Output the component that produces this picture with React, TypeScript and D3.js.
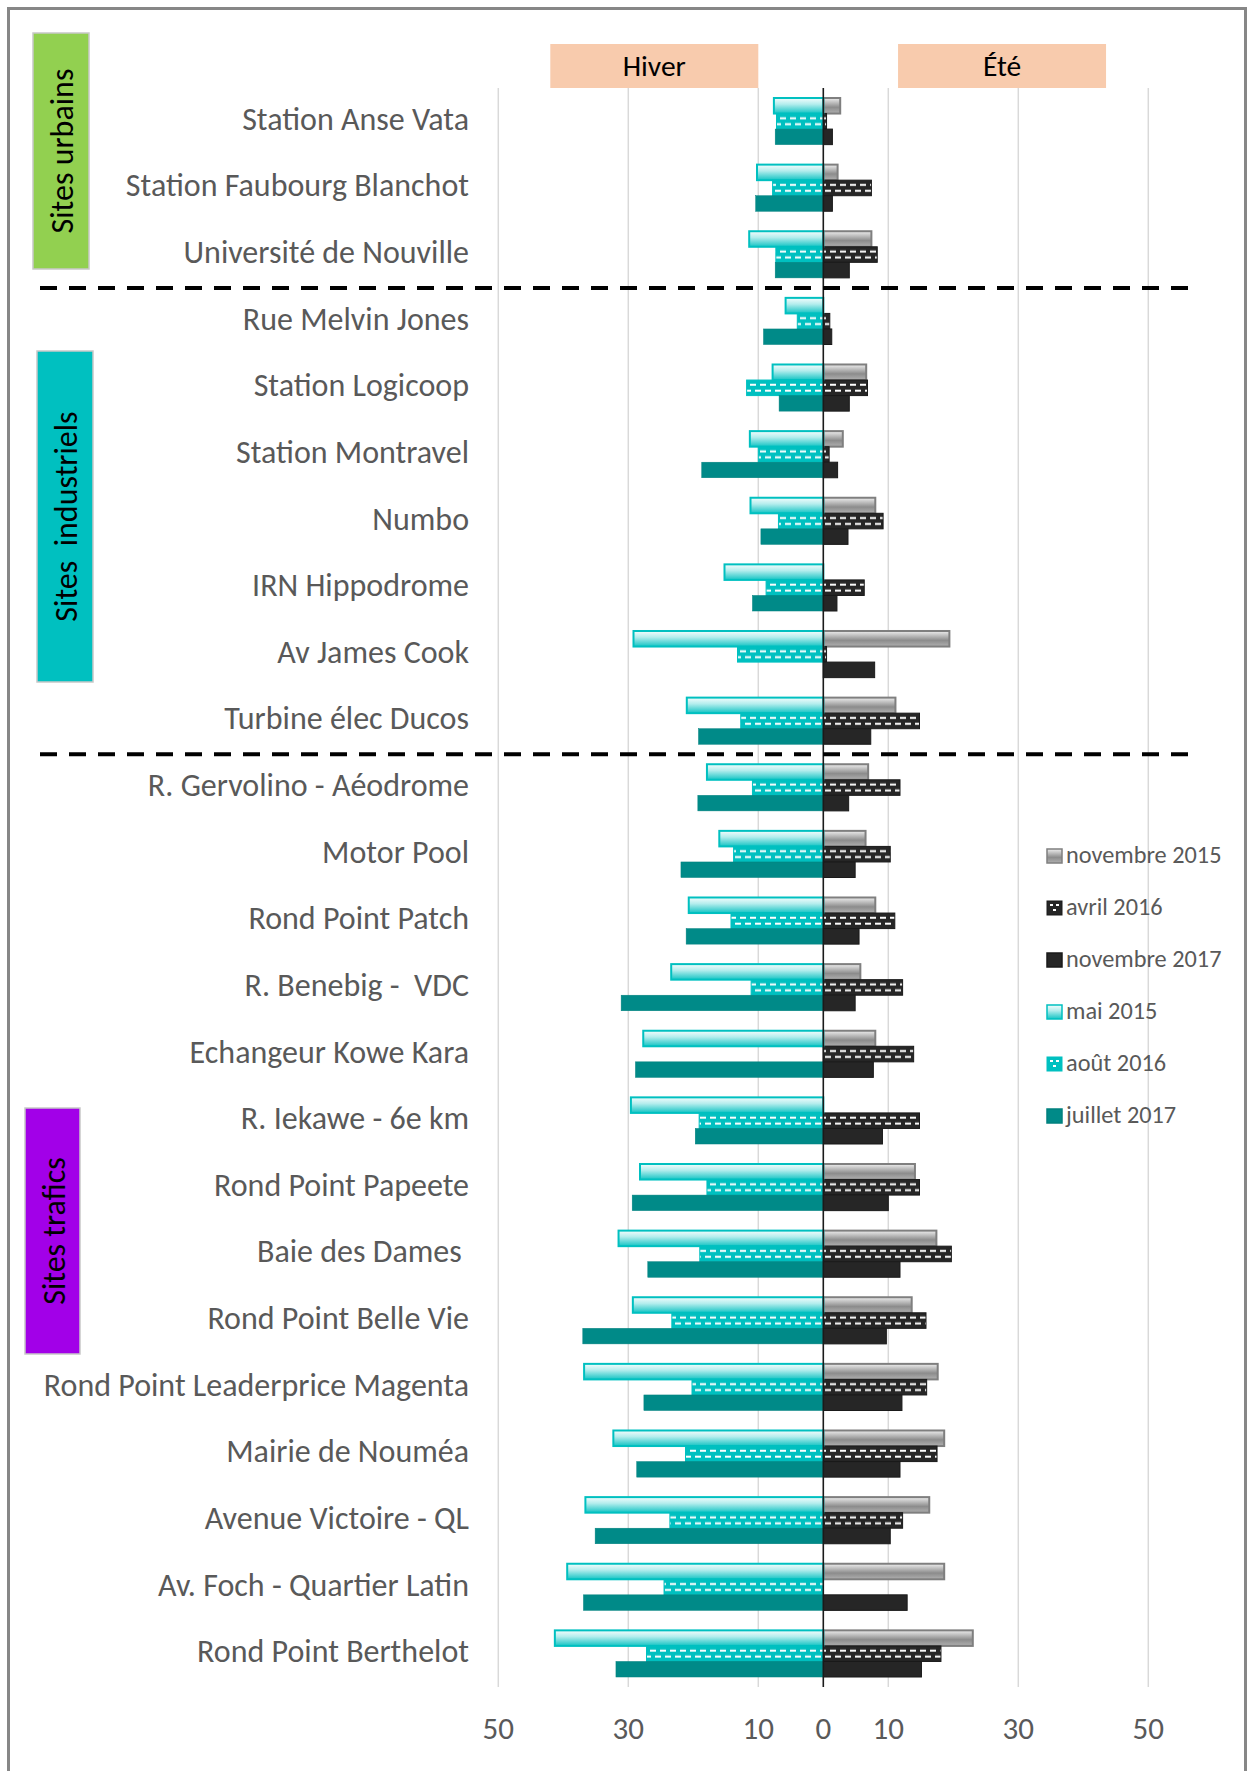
import React from "react";
import * as d3 from "d3";

const WIDTH = 1249;
const HEIGHT = 1771;

// sites, top to bottom
const sites = [
  "Station Anse Vata",
  "Station Faubourg Blanchot",
  "Université de Nouville",
  "Rue Melvin Jones",
  "Station Logicoop",
  "Station Montravel",
  "Numbo",
  "IRN Hippodrome",
  "Av James Cook",
  "Turbine élec Ducos",
  "R. Gervolino - Aéodrome",
  "Motor Pool",
  "Rond Point Patch",
  "R. Benebig -  VDC",
  "Echangeur Kowe Kara",
  "R. Iekawe - 6e km",
  "Rond Point Papeete",
  "Baie des Dames ",
  "Rond Point Belle Vie",
  "Rond Point Leaderprice Magenta",
  "Mairie de Nouméa",
  "Avenue Victoire - QL",
  "Av. Foch - Quartier Latin",
  "Rond Point Berthelot",
];

// été (right side)
const nov2015 = [2.6, 2.2, 7.4, null, 6.6, 3.0, 8.0, null, 19.4, 11.1, 6.9, 6.5, 8.0, 5.7, 8.0, null, 14.1, 17.4, 13.6, 17.6, 18.6, 16.3, 18.6, 23.0];
const avr2016 = [0.5, 7.4, 8.3, 1.0, 6.8, 0.9, 9.2, 6.3, 0.5, 14.8, 11.8, 10.3, 11.0, 12.2, 13.9, 14.8, 14.8, 19.7, 15.8, 15.9, 17.5, 12.2, null, 18.1];
const nov2017 = [1.4, 1.4, 4.0, 1.3, 4.0, 2.2, 3.8, 2.1, 7.9, 7.3, 3.9, 4.9, 5.5, 4.9, 7.7, 9.1, 10.0, 11.8, 9.7, 12.1, 11.8, 10.3, 12.9, 15.1];

// hiver (left side)
const mai2015 = [7.6, 10.2, 11.4, 5.8, 7.8, 11.3, 11.2, 15.2, 29.2, 21.0, 17.9, 16.0, 20.7, 23.4, 27.7, 29.6, 28.2, 31.5, 29.3, 36.8, 32.3, 36.6, 39.4, 41.3];
const aout2016 = [7.2, 7.8, 7.3, 4.0, 11.8, 10.0, 6.9, 8.8, 13.2, 12.7, 10.9, 13.8, 14.2, 11.1, null, 19.1, 17.9, 19.0, 23.3, 20.2, 21.2, 23.6, 24.5, 27.2];
const juil2017 = [7.4, 10.4, 7.4, 9.2, 6.8, 18.7, 9.6, 10.9, null, 19.2, 19.3, 21.9, 21.1, 31.1, 28.9, 19.7, 29.4, 27.0, 37.0, 27.6, 28.7, 35.1, 36.9, 31.9];

const tickValues = [-50, -30, -10, 0, 10, 30, 50];
const gridValues = [-50, -30, -10, 10, 30, 50];

const groups = [
  { label: "Sites urbains", color: "#92D050", x: 33, y: 33, w: 56, h: 236, tx: 62 },
  { label: "Sites  industriels", color: "#00C0C0", x: 37, y: 351, w: 56, h: 331, tx: 66 },
  { label: "Sites trafics", color: "#A200E8", x: 25, y: 1108, w: 55, h: 246, tx: 54 },
];

const FONT = "Carlito, Calibri, Lato, sans-serif";

export default function App() {
  const x = d3.scaleLinear().domain([-50, 50]).range([498.3, 1148.3]);
  const y = d3
    .scaleBand<string>()
    .domain(sites)
    .range([88, 1687])
    .paddingInner(0.3)
    .paddingOuter(0.15);
  const sub = d3.scaleBand<number>().domain([0, 1, 2]).range([0, y.bandwidth()]);
  const step = y.step();
  const midY0 = (y(sites[0]) ?? 0) + (sub(1) ?? 0);
  const bh = sub.bandwidth();

  const series = [
    { label: "novembre 2015", values: nov2015, side: 1, row: 0, fill: "url(#gradGray)", stroke: "#7f7f7f", sw: 2 },
    { label: "avril 2016", values: avr2016, side: 1, row: 1, fill: "url(#dashDark)", stroke: "#1a1a1a", sw: 1 },
    { label: "novembre 2017", values: nov2017, side: 1, row: 2, fill: "#262626", stroke: "#1a1a1a", sw: 1 },
    { label: "mai 2015", values: mai2015, side: -1, row: 0, fill: "url(#gradCyan)", stroke: "#00C0C0", sw: 2 },
    { label: "août 2016", values: aout2016, side: -1, row: 1, fill: "url(#dashCyan)", stroke: "#00C0C0", sw: 1 },
    { label: "juillet 2017", values: juil2017, side: -1, row: 2, fill: "#008A88", stroke: "#00807e", sw: 0.5 },
  ];

  // separators between the site families
  const sepY = (i: number) => ((y(sites[i]) ?? 0) + y.bandwidth() + (y(sites[i + 1]) ?? 0)) / 2;
  const separators = [sepY(2), sepY(9)];

  const dashTile = (id: string, bg: string) => (
    <pattern id={id} patternUnits="userSpaceOnUse" x={0} y={midY0} width={10} height={step}>
      <rect width={10} height={step} fill={bg} />
      <rect x={0} y={bh * 0.24} width={6} height={2} fill="#fff" />
      <rect x={5} y={bh * 0.62} width={5} height={2} fill="#fff" />
      <rect x={0} y={bh * 0.62} width={1} height={2} fill="#fff" />
    </pattern>
  );

  const legendSwatch = (s: typeof series[number], lx: number, ly: number) => {
    if (s.fill === "url(#dashDark)" || s.fill === "url(#dashCyan)") {
      const bg = s.fill === "url(#dashDark)" ? "#262626" : "#00C0C0";
      return (
        <g>
          <rect x={lx} y={ly} width={15} height={14} fill={bg} stroke={s.stroke} strokeWidth={1} />
          <rect x={lx + 3} y={ly + 3} width={3} height={2} fill="#fff" />
          <rect x={lx + 9} y={ly + 3} width={3} height={2} fill="#fff" />
          <rect x={lx + 6} y={ly + 8} width={3} height={2} fill="#fff" />
        </g>
      );
    }
    return <rect x={lx} y={ly} width={15} height={14} fill={s.fill} stroke={s.stroke} strokeWidth={1.5} />;
  };

  return (
    <svg
      width={WIDTH}
      height={HEIGHT}
      style={{ position: "absolute", left: 0, top: 0, background: "#fff" }}
      fontFamily={FONT}
    >
      <defs>
        <linearGradient id="gradCyan" x1="0" y1="0" x2="0" y2="1">
          <stop offset="0" stopColor="#f4fdfd" />
          <stop offset="0.4" stopColor="#b4eded" />
          <stop offset="1" stopColor="#14c4c4" />
        </linearGradient>
        <linearGradient id="gradGray" x1="0" y1="0" x2="0" y2="1">
          <stop offset="0" stopColor="#eeeeee" />
          <stop offset="0.6" stopColor="#8c8c8c" />
          <stop offset="1" stopColor="#b0b0b0" />
        </linearGradient>
        {dashTile("dashCyan", "#00C0C0")}
        {dashTile("dashDark", "#262626")}
      </defs>

      <rect x={0} y={0} width={WIDTH} height={HEIGHT} fill="#fff" />
      {/* frame */}
      <rect x={8.5} y={8.5} width={1237} height={1800} fill="none" stroke="#878787" strokeWidth={3} />

      {/* season headers */}
      <rect x={x(-42)} y={44} width={x(-10) - x(-42)} height={44} fill="#F8CBAD" />
      <text x={(x(-42) + x(-10)) / 2} y={66} textAnchor="middle" dominantBaseline="central" fontSize={29.5} fill="#000">
        Hiver
      </text>
      <rect x={x(11.5)} y={44} width={x(43.5) - x(11.5)} height={44} fill="#F8CBAD" />
      <text x={(x(11.5) + x(43.5)) / 2} y={66} textAnchor="middle" dominantBaseline="central" fontSize={29.5} fill="#000">
        Été
      </text>

      {/* gridlines */}
      {gridValues.map((v) => (
        <line key={v} x1={x(v)} x2={x(v)} y1={88} y2={1687} stroke="#d9d9d9" strokeWidth={1.5} />
      ))}

      {/* bars */}
      {series.map((s) => (
        <g key={s.label}>
          {sites.map((site, i) => {
            const v = s.values[i];
            if (v == null) return null;
            const x0 = s.side > 0 ? x(0) : x(-v);
            const w = Math.abs(x(v) - x(0));
            return (
              <rect
                key={site}
                x={x0}
                y={(y(site) ?? 0) + (sub(s.row) ?? 0)}
                width={w}
                height={bh}
                fill={s.fill}
                stroke={s.stroke}
                strokeWidth={s.sw}
              />
            );
          })}
        </g>
      ))}

      {/* zero axis */}
      <line x1={x(0)} x2={x(0)} y1={88} y2={1687} stroke="#1a1a1a" strokeWidth={1.6} />

      {/* site labels */}
      {sites.map((site) => (
        <text
          key={site}
          x={469}
          y={(y(site) ?? 0) + y.bandwidth() / 2 - 2}
          textAnchor="end"
          dominantBaseline="central"
          fontSize={32}
          fill="#595959"
          style={{ whiteSpace: "pre" }}
        >
          {site}
        </text>
      ))}

      {/* dashed separators */}
      {separators.map((sy) => (
        <line key={sy} x1={40} x2={1190} y1={sy} y2={sy} stroke="#000" strokeWidth={4} strokeDasharray="17 12" />
      ))}

      {/* group boxes */}
      {groups.map((g) => (
        <g key={g.label}>
          <rect x={g.x} y={g.y} width={g.w} height={g.h} fill={g.color} stroke="#c8c8c8" strokeWidth={1.5} />
          <text
            transform={`translate(${g.tx},${g.y + g.h / 2}) rotate(-90)`}
            textAnchor="middle"
            dominantBaseline="central"
            fontSize={32}
            fill="#000"
            style={{ whiteSpace: "pre" }}
          >
            {g.label}
          </text>
        </g>
      ))}

      {/* axis tick labels */}
      {tickValues.map((v) => (
        <text key={v} x={x(v)} y={1728} textAnchor="middle" dominantBaseline="central" fontSize={31} fill="#595959">
          {Math.abs(v)}
        </text>
      ))}

      {/* legend */}
      {series.map((s, k) => {
        const ly = 856 + k * 52;
        return (
          <g key={s.label}>
            {legendSwatch(s, 1047, ly - 7)}
            <text x={1066} y={ly - 1} dominantBaseline="central" fontSize={24.3} fill="#595959">
              {s.label}
            </text>
          </g>
        );
      })}
    </svg>
  );
}
